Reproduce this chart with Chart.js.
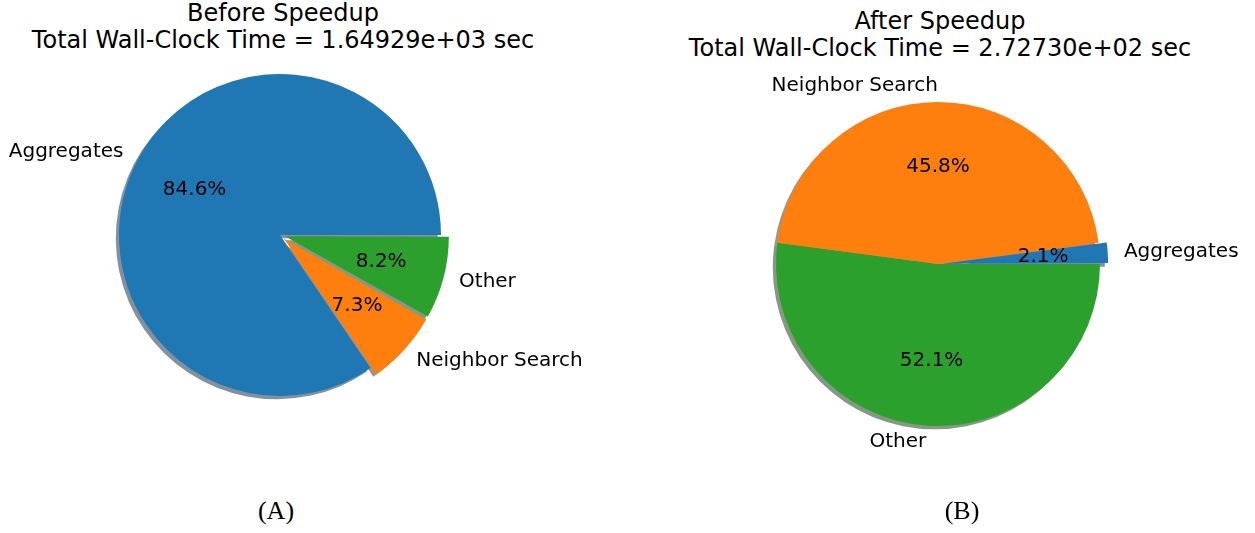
<!DOCTYPE html>
<html>
<head>
<meta charset="utf-8">
<script src="https://cdn.jsdelivr.net/npm/chart.js@4"></script>
<style>
  body { margin: 0; background: #fff; width: 1255px; height: 533px; position: relative; overflow: hidden; }
  .title { position: absolute; font-family: "DejaVu Sans", sans-serif; font-size: 24px; line-height: 27px; text-align: center; color: #000; white-space: nowrap; }
  .caption { position: absolute; font-family: "Liberation Serif", serif; font-size: 26px; text-align: center; color: #000; }
  .box { position: absolute; }
</style>
</head>
<body>

<div class="title" style="left:23px; top:0px; width:520px;">Before Speedup<br>Total Wall-Clock Time = 1.64929e+03 sec</div>
<div class="title" style="left:680px; top:8px; width:520px;">After Speedup<br>Total Wall-Clock Time = 2.72730e+02 sec</div>

<div class="box" style="left:0px; top:0px; width:620px; height:470px;"><canvas id="beforeChart"></canvas></div>
<div class="box" style="left:621px; top:0px; width:634px; height:528px;"><canvas id="afterChart"></canvas></div>

<div class="caption" style="left:226px; top:496px; width:100px;">(A)</div>
<div class="caption" style="left:912px; top:496px; width:100px;">(B)</div>

<script>
// slices in clockwise order starting at 3 o'clock
const sliceLabels = ['Other', 'Neighbor Search', 'Aggregates'];
const beforeShares = [8.2, 7.3, 84.6];
const afterShares = [52.1, 45.8, 2.1];

const sliceColors = ['#2ca02c', '#ff7f0e', '#1f77b4'];

// how far the arc element is really moved for a given offset (mirrors ArcElement.draw)
function arcShift(offset, circumference) {
    const fix = 1 - Math.sin(Math.min(Math.PI, circumference || 0));
    return (offset / 4) * (1 + fix);
}

function arcGeometry(arc) {
    const p = arc.getProps(['x', 'y', 'startAngle', 'endAngle', 'outerRadius', 'circumference']);
    const mid = (p.startAngle + p.endAngle) / 2;
    const shift = arcShift(arc.options.offset || 0, p.circumference);
    return {
        cx: p.x + Math.cos(mid) * shift,
        cy: p.y + Math.sin(mid) * shift,
        r: p.outerRadius, mid: mid, start: p.startAngle, end: p.endAngle
    };
}

function shadeOf(hex) {
    const n = parseInt(hex.slice(1), 16);
    const r = Math.round(((n >> 16) & 255) * 0.3);
    const g = Math.round(((n >> 8) & 255) * 0.3);
    const b = Math.round((n & 255) * 0.3);
    return `rgba(${r},${g},${b},0.5)`;
}

const pieShadow = {
    id: 'pieShadow',
    beforeDatasetsDraw(chart) {
        const ctx = chart.ctx;
        const meta = chart.getDatasetMeta(0);
        ctx.save();
        meta.data.forEach((arc, i) => {
            const g = arcGeometry(arc);
            const d = g.r * 0.02;
            ctx.beginPath();
            ctx.moveTo(g.cx - d, g.cy + d);
            ctx.arc(g.cx - d, g.cy + d, g.r, g.start, g.end);
            ctx.closePath();
            ctx.fillStyle = shadeOf(sliceColors[i]);
            ctx.fill();
        });
        ctx.restore();
    }
};

const pieLabels = {
    id: 'pieLabels',
    afterDatasetsDraw(chart) {
        const ctx = chart.ctx;
        const meta = chart.getDatasetMeta(0);
        const values = chart.data.datasets[0].data;
        ctx.save();
        ctx.font = '20px "DejaVu Sans"';
        ctx.fillStyle = '#000';
        ctx.textBaseline = 'middle';
        meta.data.forEach((arc, i) => {
            const g = arcGeometry(arc);
            const c = Math.cos(g.mid), s = Math.sin(g.mid);
            ctx.textAlign = 'center';
            ctx.fillText(values[i].toFixed(1) + '%', g.cx + c * g.r * 0.6, g.cy + s * g.r * 0.6);
            ctx.textAlign = c > 0.01 ? 'left' : 'right';
            ctx.fillText(chart.data.labels[i], g.cx + c * g.r * 1.1, g.cy + s * g.r * 1.1);
        });
        ctx.restore();
    }
};

function makePie(id, shares, explode, radius, padding) {
    const total = shares.reduce((a, b) => a + b, 0);
    new Chart(document.getElementById(id), {
        type: 'pie',
        data: {
            labels: sliceLabels,
            datasets: [{
                data: shares,
                backgroundColor: sliceColors,
                borderWidth: 0,
                // explode as a fraction of the radius, turned into the offset Chart.js needs
                offset: (c) => {
                    const circ = shares[c.dataIndex] / total * Math.PI * 2;
                    const want = explode[c.dataIndex] * radius;
                    return want / (0.25 * (2 - Math.sin(Math.min(Math.PI, circ))));
                },
                hoverOffset: 0
            }]
        },
        options: {
            responsive: true,
            maintainAspectRatio: false,
            animation: false,
            rotation: 90,
            radius: radius,
            layout: { padding: padding },
            plugins: {
                legend: { display: false },
                tooltip: { enabled: false }
            }
        },
        plugins: [pieShadow, pieLabels]
    });
}

makePie('beforeChart', beforeShares, [0.05, 0.05, 0], 161, { right: 60 });
makePie('afterChart', afterShares, [0, 0, 0.05], 162, { right: 0 });
</script>
</body>
</html>
